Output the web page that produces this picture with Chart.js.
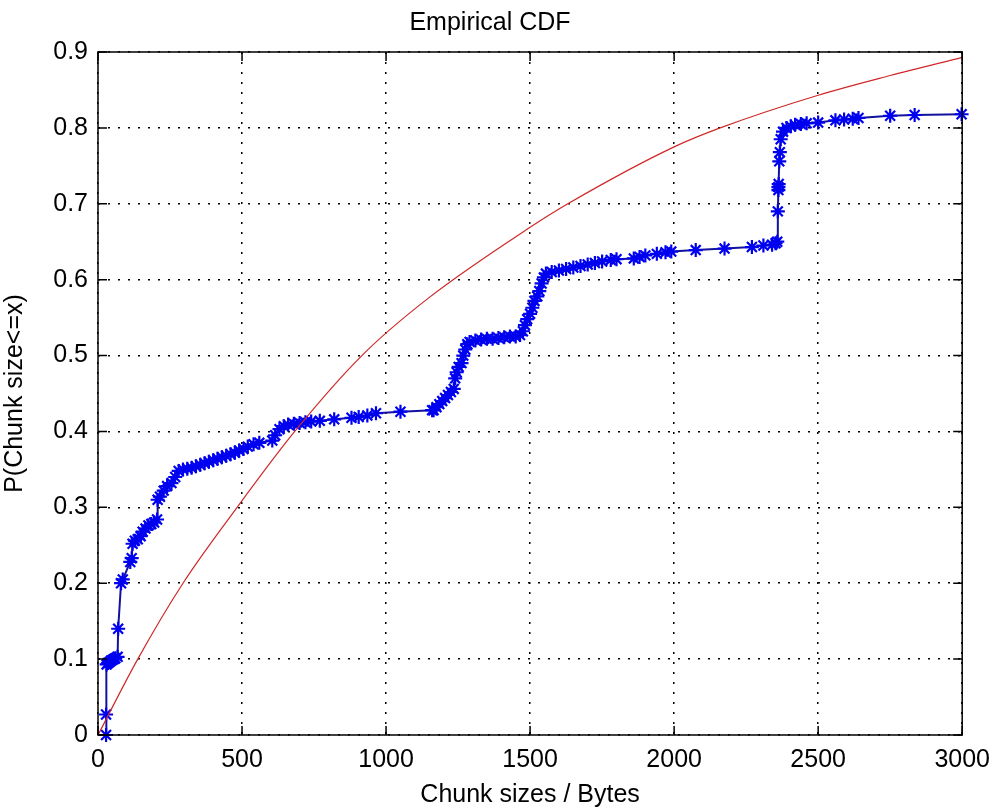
<!DOCTYPE html>
<html>
<head>
<meta charset="utf-8">
<script src="https://cdn.jsdelivr.net/npm/chart.js@4/dist/chart.umd.min.js"></script>
<style>
  html, body { margin: 0; padding: 0; background: #fff; }
  #wrap { width: 1000px; height: 810px; }
</style>
</head>
<body>
<div id="wrap"><canvas id="cdf" width="1000" height="810"></canvas></div>
<script>
// tick labels
var xTicks = [0, 500, 1000, 1500, 2000, 2500, 3000];
var yTicks = [0, 0.1, 0.2, 0.3, 0.4, 0.5, 0.6, 0.7, 0.8, 0.9];

// empirical CDF (blue stars)
var ecdfX = [28, 28, 30, 35, 40, 45, 50, 55, 60, 68, 70, 80, 86, 112, 117, 120, 128, 138, 148, 155,
  165, 175, 185, 195, 205, 207, 215, 228, 240, 255, 268, 280, 295, 310, 325, 340, 355, 370, 385, 400,
  415, 430, 445, 460, 475, 490, 505, 520, 540, 560, 605, 615, 630, 645, 660, 680, 700, 720, 740, 770,
  820, 880, 905, 935, 965, 1050, 1160, 1165, 1175, 1185, 1195, 1205, 1215, 1225, 1235, 1240, 1245, 1252,
  1262, 1268, 1275, 1282, 1290, 1310, 1330, 1350, 1370, 1390, 1410, 1430, 1450, 1465, 1475, 1482, 1490,
  1500, 1508, 1515, 1525, 1532, 1540, 1548, 1555, 1575, 1600, 1625, 1650, 1675, 1700, 1725, 1750, 1780,
  1800, 1860, 1880, 1900, 1940, 1970, 1990, 2075, 2175, 2270, 2310, 2340, 2352, 2358, 2360, 2362, 2362,
  2363, 2365, 2367, 2370, 2378, 2390, 2405, 2420, 2440, 2460, 2500, 2560, 2590, 2620, 2640, 2750, 2835, 2998];
var ecdfY = [0, 0.027, 0.093, 0.095, 0.096, 0.098, 0.099, 0.1, 0.101, 0.103, 0.14, 0.2, 0.205, 0.228, 0.233, 0.252, 0.256, 0.258, 0.262, 0.268,
  0.272, 0.276, 0.278, 0.28, 0.284, 0.31, 0.314, 0.322, 0.328, 0.332, 0.34, 0.348, 0.35, 0.351, 0.352, 0.354, 0.356, 0.358, 0.36, 0.362,
  0.364, 0.366, 0.368, 0.37, 0.372, 0.375, 0.377, 0.38, 0.383, 0.385, 0.388, 0.395, 0.403, 0.407, 0.409, 0.41, 0.411, 0.412, 0.413, 0.414,
  0.416, 0.418, 0.419, 0.421, 0.424, 0.426, 0.428, 0.428, 0.432, 0.436, 0.44, 0.444, 0.448, 0.452, 0.456, 0.47, 0.478, 0.485,
  0.49, 0.5, 0.508, 0.515, 0.518, 0.52, 0.521, 0.522, 0.522, 0.523, 0.524, 0.525, 0.525, 0.527, 0.532, 0.54, 0.548,
  0.555, 0.563, 0.572, 0.578, 0.585, 0.595, 0.603, 0.608, 0.61, 0.612, 0.614, 0.616, 0.618, 0.62, 0.622, 0.624, 0.626,
  0.627, 0.628, 0.63, 0.632, 0.634, 0.636, 0.637, 0.639, 0.641, 0.643, 0.645, 0.646, 0.648, 0.65, 0.69, 0.718, 0.722,
  0.726, 0.756, 0.768, 0.785, 0.795, 0.8, 0.802, 0.804, 0.805, 0.806, 0.807, 0.81, 0.811, 0.812, 0.813, 0.816, 0.817, 0.818];

// fitted curve (red)
var fitX = [0, 138, 295, 483, 683, 916, 1148, 1500, 1631, 2000, 2160, 2500, 2750, 3000];
var fitY = [0, 0.1, 0.2, 0.3, 0.4, 0.5, 0.576, 0.669, 0.7, 0.775, 0.8, 0.843, 0.869, 0.893];

function pts(xs, ys) {
  return xs.map(function(x, i) { return {x: x, y: ys[i]}; });
}

var font = "'Liberation Sans', Arial, sans-serif";

// box round the plot and MATLAB style inward ticks
var boxPlugin = {
  id: 'box',
  afterDraw: function(chart) {
    var a = chart.chartArea, ctx = chart.ctx;
    var xs = chart.scales.x, ys = chart.scales.y, len = 9;
    ctx.save();
    ctx.strokeStyle = '#000';
    ctx.lineWidth = 1.5;
    ctx.strokeRect(a.left, a.top, a.right - a.left, a.bottom - a.top);
    ctx.beginPath();
    xTicks.forEach(function(v) {
      var px = xs.getPixelForValue(v);
      ctx.moveTo(px, a.bottom); ctx.lineTo(px, a.bottom - len);
      ctx.moveTo(px, a.top); ctx.lineTo(px, a.top + len);
    });
    yTicks.forEach(function(v) {
      var py = ys.getPixelForValue(v);
      ctx.moveTo(a.left, py); ctx.lineTo(a.left + len, py);
      ctx.moveTo(a.right, py); ctx.lineTo(a.right - len, py);
    });
    ctx.stroke();
    ctx.restore();
  }
};

new Chart(document.getElementById('cdf'), {
  type: 'scatter',
  data: {
    datasets: [{
      label: 'fit',
      data: pts(fitX, fitY),
      showLine: true,
      borderColor: '#d02828',
      borderWidth: 1.2,
      pointRadius: 0,
      cubicInterpolationMode: 'monotone',
      order: 0
    }, {
      label: 'ecdf',
      data: pts(ecdfX, ecdfY),
      showLine: true,
      borderColor: '#12129e',
      borderWidth: 2,
      pointStyle: 'star',
      pointRadius: 7,
      pointBorderColor: '#0000f0',
      pointBackgroundColor: '#0000f0',
      pointBorderWidth: 2.2,
      clip: false,
      order: 1
    }]
  },
  options: {
    responsive: false,
    animation: false,
    layout: { padding: { left: 0, right: 20, top: 0, bottom: 0 } },
    plugins: {
      legend: { display: false },
      tooltip: { enabled: false },
      title: {
        display: true,
        text: 'Empirical CDF',
        color: '#000',
        font: { family: font, size: 25, weight: 'normal' },
        padding: { top: 8, bottom: 14 }
      }
    },
    scales: {
      x: {
        type: 'linear',
        min: 0, max: 3000,
        afterBuildTicks: function(s) { s.ticks = xTicks.map(function(v) { return {value: v}; }); },
        afterFit: function(s) { s.height = 75; },
        ticks: {
          color: '#000', font: { family: font, size: 25 }, padding: 10, maxRotation: 0,
          callback: function(v) { return String(v); }
        },
        grid: { color: '#000', lineWidth: 1.5, drawTicks: false },
        border: { display: false, dash: [2, 8] },
        title: {
          display: true, text: 'Chunk sizes / Bytes', color: '#000',
          font: { family: font, size: 25 }, padding: { top: 0, bottom: 0 }
        }
      },
      y: {
        type: 'linear',
        min: 0, max: 0.9,
        afterBuildTicks: function(s) { s.ticks = yTicks.map(function(v) { return {value: v}; }); },
        afterFit: function(s) { s.width = 98; },
        ticks: {
          color: '#000', font: { family: font, size: 25 }, padding: 10,
          callback: function(v) { return String(+v.toFixed(1)); }
        },
        grid: { color: '#000', lineWidth: 1.5, drawTicks: false },
        border: { display: false, dash: [2, 8] },
        title: {
          display: true, text: 'P(Chunk size<=x)', color: '#000',
          font: { family: font, size: 25 }, padding: { top: 0, bottom: 0 }
        }
      }
    }
  },
  plugins: [boxPlugin]
});
</script>
</body>
</html>
